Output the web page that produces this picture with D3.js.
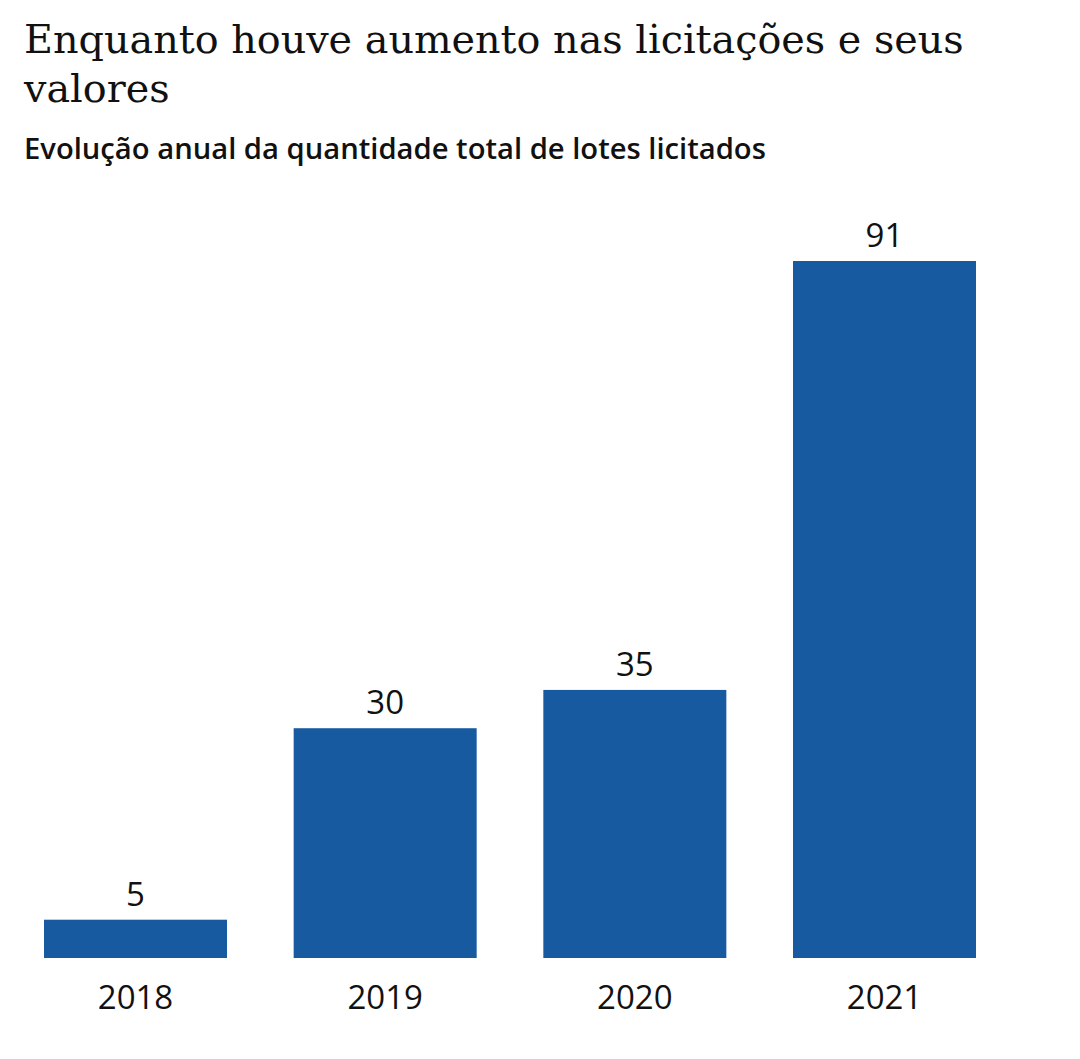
<!DOCTYPE html>
<html>
<head>
<meta charset="utf-8">
<script src="https://cdn.jsdelivr.net/npm/d3@7"></script>
<style>
  body { margin: 0; background: #fff; }
</style>
</head>
<body>
<script>
var years = ['2018', '2019', '2020', '2021'];
var lotes = [5, 30, 35, 91];
var titleLines = ['Enquanto houve aumento nas licitações e seus', 'valores'];
var subtitle = 'Evolução anual da quantidade total de lotes licitados';

var width = 1080,
    height = 1059;

var svg = d3.select('body')
    .append('svg')
    .attr('width', width)
    .attr('height', height);

// fit a text line to a given pixel width
function fitText(sel, target) {
    var w = sel.node().getComputedTextLength();
    var size = parseFloat(sel.attr('font-size'));
    sel.attr('font-size', size * target / w);
}

var t1 = svg.append('text')
    .attr('x', 24).attr('y', 53)
    .attr('font-family', 'DejaVu Serif')
    .attr('font-size', 40)
    .attr('fill', '#111')
    .text(titleLines[0]);
fitText(t1, 940);
svg.append('text')
    .attr('x', 24).attr('y', 102)
    .attr('font-family', 'DejaVu Serif')
    .attr('font-size', t1.attr('font-size'))
    .attr('fill', '#111')
    .text(titleLines[1]);

var st = svg.append('text')
    .attr('x', 24).attr('y', 159)
    .attr('font-family', 'Open Sans')
    .attr('font-weight', 600)
    .attr('font-size', 27)
    .attr('fill', '#111')
    .text(subtitle);
fitText(st, 742);

var x = d3.scaleBand()
    .domain(years)
    .range([44, 976])
    .paddingInner(0.267)
    .paddingOuter(0);

var y = d3.scaleLinear()
    .domain([0, 91])
    .range([958, 261]);

svg.selectAll('rect.bar')
    .data(lotes)
    .enter()
    .append('rect')
    .attr('class', 'bar')
    .attr('x', function (d, i) { return x(years[i]); })
    .attr('y', function (d) { return y(d); })
    .attr('width', x.bandwidth())
    .attr('height', function (d) { return y(0) - y(d); })
    .attr('fill', '#175a9f');

svg.selectAll('text.val')
    .data(lotes)
    .enter()
    .append('text')
    .attr('class', 'val')
    .attr('x', function (d, i) { return x(years[i]) + x.bandwidth() / 2; })
    .attr('y', function (d) { return y(d) - 14; })
    .attr('text-anchor', 'middle')
    .attr('font-family', 'Open Sans')
    .attr('font-size', 33)
    .attr('fill', '#111')
    .text(function (d) { return d; });

var xAxis = svg.append('g')
    .attr('transform', 'translate(0,' + y(0) + ')')
    .call(d3.axisBottom(x).tickSize(0).tickPadding(51));
xAxis.select('.domain').remove();
xAxis.selectAll('text')
    .attr('font-family', 'Open Sans')
    .attr('font-size', 33)
    .attr('fill', '#111')
    .attr('dy', 0);
</script>
</body>
</html>
